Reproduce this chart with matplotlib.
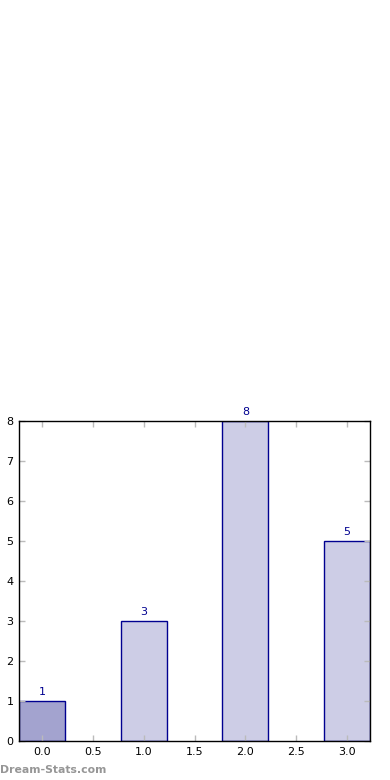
import matplotlib
matplotlib.use("Agg")
import matplotlib.pyplot as plt

positions = [0, 1, 2, 3]
values = [1, 3, 8, 5]
labels = ["1", "3", "8", "5"]
colors = ["#a3a3cf", "#cdcde6", "#cdcde6", "#cdcde6"]

fig = plt.figure(figsize=(3.9, 7.8), dpi=100)
ax = fig.add_axes([19/390, 1-741/780, (370-19)/390, (741-421)/780])
ax.bar(positions, values, width=0.45, color=colors, edgecolor="#000090", linewidth=1)
for p, v, l in zip(positions, values, labels):
    ax.text(p, v + 0.1, l, ha="center", va="bottom", color="#000090", fontsize=8)
ax.set_xlim(-0.225, 3.225)
ax.set_ylim(0, 8)
ax.set_xticks([0, 0.5, 1, 1.5, 2, 2.5, 3])
ax.set_xticklabels(["0.0", "0.5", "1.0", "1.5", "2.0", "2.5", "3.0"])
ax.set_yticks(range(0, 9))
ax.tick_params(direction="in", color="#bbbbbb", length=4, width=1, labelsize=8,
               top=True, right=True, pad=4)
for s in ax.spines.values():
    s.set_linewidth(1)
fig.text(0.0, 1-770/780, "Dream-Stats.com", color="#969696", fontsize=7.8,
         fontweight="bold", ha="left", va="center")
fig.savefig("out.png", dpi=100)
